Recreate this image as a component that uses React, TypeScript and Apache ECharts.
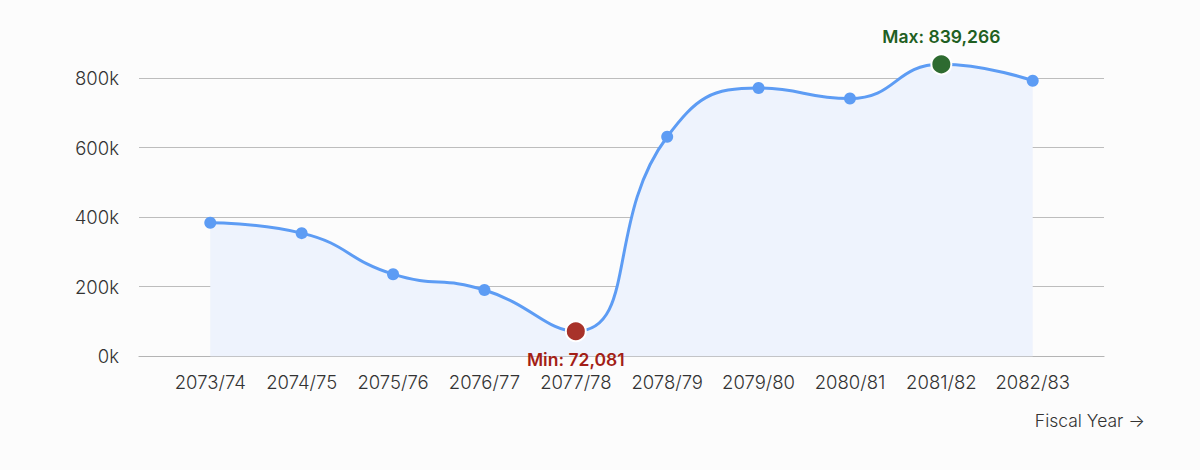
import React, { useEffect, useRef } from "react";
import * as echarts from "echarts";

const categories = [
  "2073/74", "2074/75", "2075/76", "2076/77", "2077/78",
  "2078/79", "2079/80", "2080/81", "2081/82", "2082/83",
];
const values = [384000, 354000, 236000, 190500, 72081, 631000, 771000, 741000, 839266, 792000];
const yTicks = [0, 200000, 400000, 600000, 800000];
const xAxisTitle = "Fiscal Year \u2192";

const FONT = "Inter, 'Noto Sans', sans-serif";

export default function App() {
  const ref = useRef<HTMLDivElement>(null);
  useEffect(() => {
    document.body.style.margin = "0";
    const chart = echarts.init(ref.current!, null, { renderer: "svg" });
    const maxV = Math.max(...values);
    const minV = Math.min(...values);
    const maxI = values.indexOf(maxV);
    const minI = values.indexOf(minV);
    const data = values.map((v, i) => {
      const base: any = { value: [i, v] };
      if (i === minI) {
        base.symbolSize = 20;
        base.itemStyle = { color: "#a8322a", borderColor: "#ffffff", borderWidth: 2 };
        base.label = {
          show: true,
          position: "bottom",
          distance: 8,
          formatter: "Min: " + v.toLocaleString("en-US"),
          color: "#a31f17",
          fontWeight: 600,
          fontSize: 17.5,
          fontFamily: FONT,
        };
      } else if (i === maxI) {
        base.symbolSize = 20;
        base.itemStyle = { color: "#2e6b30", borderColor: "#ffffff", borderWidth: 2 };
        base.label = {
          show: true,
          position: "top",
          distance: 8,
          formatter: "Max: " + v.toLocaleString("en-US"),
          color: "#1f5f22",
          fontWeight: 600,
          fontSize: 17.5,
          fontFamily: FONT,
        };
      }
      return base;
    });
    chart.setOption({
      animation: false,
      backgroundColor: "#fcfcfc",
      textStyle: { fontFamily: FONT },
      grid: { left: 139, right: 96, top: 64.3, bottom: 470 - 356.3 },
      xAxis: {
        type: "value",
        min: -0.78,
        max: 9.78,
        axisLine: { show: true, lineStyle: { color: "#b4b4b4", width: 1.2 } },
        axisTick: { show: false },
        splitLine: { show: false },
        axisLabel: {
          customValues: categories.map((_, i) => i),
          formatter: (v: number) => categories[Math.round(v)] ?? "",
          color: "#333333",
          fontSize: 18.5,
          margin: 16,
          fontFamily: FONT,
          fontWeight: 300,
        },
      },
      yAxis: {
        type: "value",
        min: 0,
        max: maxV,
        interval: yTicks[1] - yTicks[0],
        axisLine: { show: false },
        axisTick: { show: false },
        splitLine: { show: true, showMaxLine: false, lineStyle: { color: "#bdbdbd", width: 1.2 } },
        axisLabel: {
          showMaxLabel: false,
          formatter: (v: number) => (yTicks.includes(v) ? v / 1000 + "k" : ""),
          color: "#333333",
          fontSize: 18.5,
          margin: 20,
          fontFamily: FONT,
          fontWeight: 300,
        },
      },
      graphic: [
        {
          type: "text",
          right: 55,
          top: 411,
          style: {
            text: xAxisTitle,
            fill: "#333333",
            fontSize: 17.5,
            fontFamily: FONT,
            fontWeight: 300,
          },
        },
      ],
      series: [
        {
          type: "line",
          data,
          smooth: 0.5,
          symbol: "circle",
          symbolSize: 12,
          showAllSymbol: true,
          lineStyle: { color: "#5d9cf4", width: 3 },
          itemStyle: { color: "#5d9cf4" },
          areaStyle: { color: "#eef3fd", opacity: 1 },
          z: 3,
        },
      ],
    });
    return () => chart.dispose();
  }, []);
  return <div ref={ref} style={{ width: 1200, height: 470 }} />;
}
